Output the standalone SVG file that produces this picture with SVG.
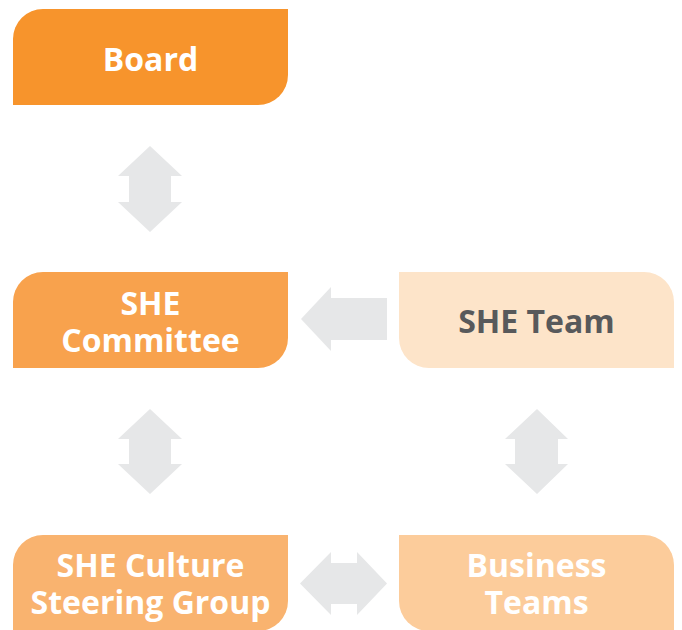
<svg xmlns="http://www.w3.org/2000/svg" width="682" height="630" viewBox="0 0 682 630">
<style>
.t{font-family:"Open Sans","Noto Sans","Liberation Sans",sans-serif;font-weight:bold;font-size:32px;text-anchor:middle;fill:#ffffff}
.g{fill:#58595B}
.arrow{fill:#E6E7E8}
</style>
<rect width="682" height="630" fill="#ffffff"/>
<g id="connectors">
<polygon class="arrow" points="150,146 182,176 171,176 171,202 182,202 150,232 118,202 129,202 129,176 118,176"/>
<polygon class="arrow" points="150,409 182,439 171,439 171,464 182,464 150,494 118,464 129,464 129,439 118,439"/>
<polygon class="arrow" points="537,409 568,439 558,439 558,464 568,464 537,494 505,464 515,464 515,439 505,439"/>
<polygon class="arrow" points="301,319 331,287 331,298 387,298 387,340 331,340 331,351"/>
<polygon class="arrow" points="300,583.5 331,552 331,563 357,563 357,552 387,583.5 357,615 357,604 331,604 331,615"/>
</g>
<g id="board">
<path d="M43,9 H288 V75 A30,30 0 0 1 258,105 H13 V39 A30,30 0 0 1 43,9 Z" fill="#F7942C"/>
<text class="t" x="150.5" y="71">Board</text>
</g>
<g id="she-committee">
<path d="M43,272 H288 V338 A30,30 0 0 1 258,368 H13 V302 A30,30 0 0 1 43,272 Z" fill="#F8A24D"/>
<text class="t" x="150.5" y="315">SHE</text>
<text class="t" x="150.5" y="352">Committee</text>
</g>
<g id="she-team">
<path d="M399,272 H644 A30,30 0 0 1 674,302 V368 H429 A30,30 0 0 1 399,338 Z" fill="#FDE4C9"/>
<text class="t g" x="536.5" y="333">SHE Team</text>
</g>
<g id="she-culture-steering-group">
<path d="M43,535 H288 V601 A30,30 0 0 1 258,631 H13 V565 A30,30 0 0 1 43,535 Z" fill="#F9B36F"/>
<text class="t" x="150.5" y="577">SHE Culture</text>
<text class="t" x="150.5" y="614">Steering Group</text>
</g>
<g id="business-teams">
<path d="M399,535 H644 A30,30 0 0 1 674,565 V631 H429 A30,30 0 0 1 399,601 Z" fill="#FCCC9B"/>
<text class="t" x="536.5" y="577">Business</text>
<text class="t" x="536.5" y="614">Teams</text>
</g>
</svg>
